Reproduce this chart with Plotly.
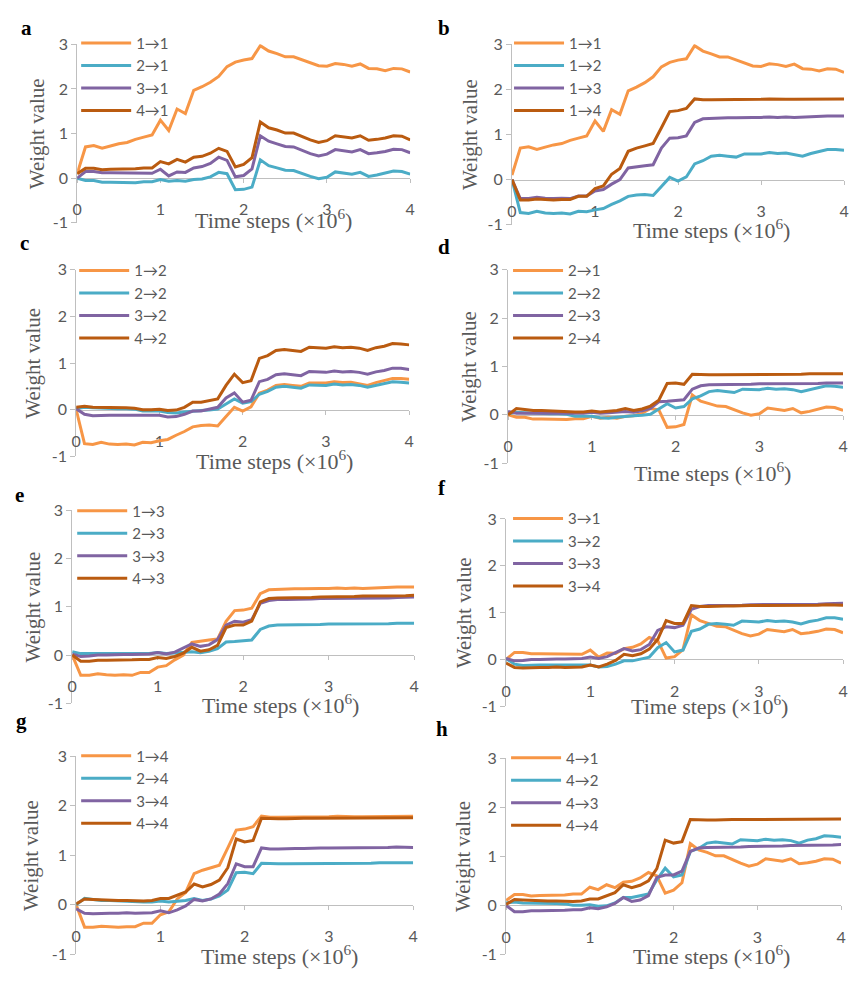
import plotly.graph_objects as go

# ---------------- data ----------------
t = [0.0, 0.1, 0.2, 0.3, 0.4, 0.5, 0.6, 0.7, 0.8, 0.9,
     1.0, 1.1, 1.2, 1.3, 1.4, 1.5, 1.6, 1.7, 1.8, 1.9,
     2.0, 2.1, 2.2, 2.3, 2.4, 2.5, 2.6, 2.7, 2.8, 2.9,
     3.0, 3.1, 3.2, 3.3, 3.4, 3.5, 3.6, 3.7, 3.8, 3.9, 4.0]

W11 = [0.10, 0.70, 0.73, 0.67, 0.72, 0.77, 0.80, 0.87, 0.92, 0.97,
       1.30, 1.07, 1.55, 1.45, 1.97, 2.05, 2.15, 2.28, 2.50, 2.60,
       2.65, 2.68, 2.97, 2.85, 2.79, 2.72, 2.72, 2.65, 2.58, 2.52,
       2.51, 2.57, 2.55, 2.51, 2.56, 2.46, 2.45, 2.41, 2.46, 2.45, 2.38]
W21 = [0.00, -0.05, -0.05, -0.09, -0.09, -0.09, -0.10, -0.10, -0.08, -0.08,
       -0.03, -0.07, -0.05, -0.07, -0.03, -0.02, 0.03, 0.13, 0.10, -0.26,
       -0.25, -0.20, 0.41, 0.28, 0.23, 0.18, 0.17, 0.10, 0.04, -0.01,
       0.02, 0.14, 0.12, 0.09, 0.13, 0.04, 0.07, 0.11, 0.16, 0.15, 0.09]
W31 = [0.00, 0.15, 0.15, 0.12, 0.12, 0.12, 0.12, 0.12, 0.12, 0.11,
       0.20, 0.05, 0.14, 0.13, 0.23, 0.26, 0.33, 0.47, 0.40, 0.03,
       0.06, 0.21, 0.95, 0.83, 0.77, 0.71, 0.70, 0.63, 0.55, 0.50,
       0.54, 0.64, 0.62, 0.59, 0.64, 0.55, 0.57, 0.60, 0.65, 0.64, 0.57]
W41 = [0.10, 0.22, 0.22, 0.19, 0.20, 0.20, 0.20, 0.21, 0.23, 0.23,
       0.37, 0.32, 0.42, 0.36, 0.47, 0.49, 0.56, 0.67, 0.60, 0.25,
       0.31, 0.46, 1.26, 1.13, 1.08, 1.01, 1.01, 0.93, 0.86, 0.80,
       0.84, 0.95, 0.93, 0.90, 0.95, 0.85, 0.87, 0.90, 0.95, 0.94, 0.86]

W12 = [0.00, -0.73, -0.75, -0.70, -0.74, -0.75, -0.74, -0.76, -0.70, -0.71,
       -0.67, -0.64, -0.55, -0.47, -0.37, -0.34, -0.33, -0.35, -0.15, 0.05,
       -0.03, 0.06, 0.35, 0.42, 0.52, 0.54, 0.52, 0.50, 0.57, 0.57,
       0.57, 0.60, 0.58, 0.59, 0.56, 0.52, 0.58, 0.62, 0.67, 0.67, 0.65]
W22 = [0.02, 0.05, 0.04, 0.03, 0.03, 0.02, 0.02, 0.01, -0.03, -0.03,
       -0.03, -0.06, -0.07, -0.05, -0.03, -0.02, -0.01, 0.01, 0.12, 0.23,
       0.14, 0.17, 0.33, 0.39, 0.48, 0.50, 0.48, 0.46, 0.53, 0.53,
       0.52, 0.55, 0.53, 0.54, 0.52, 0.48, 0.52, 0.55, 0.60, 0.59, 0.57]
W32 = [0.02, -0.10, -0.13, -0.12, -0.12, -0.12, -0.12, -0.12, -0.13, -0.13,
       -0.12, -0.16, -0.15, -0.10, -0.03, -0.03, 0.01, 0.05, 0.25, 0.36,
       0.16, 0.20, 0.60, 0.65, 0.75, 0.77, 0.75, 0.73, 0.82, 0.81,
       0.80, 0.83, 0.81, 0.82, 0.80, 0.76, 0.81, 0.84, 0.89, 0.89, 0.86]
W42 = [0.05, 0.07, 0.05, 0.05, 0.05, 0.04, 0.04, 0.03, 0.00, 0.00,
       0.01, -0.02, -0.01, 0.05, 0.16, 0.16, 0.20, 0.23, 0.52, 0.76,
       0.58, 0.62, 1.10, 1.16, 1.27, 1.29, 1.27, 1.25, 1.34, 1.33,
       1.32, 1.35, 1.33, 1.34, 1.32, 1.27, 1.33, 1.36, 1.42, 1.41, 1.39]

W13 = [0.00, -0.42, -0.42, -0.39, -0.41, -0.42, -0.41, -0.42, -0.36, -0.36,
       -0.25, -0.22, -0.10, 0.00, 0.26, 0.29, 0.31, 0.33, 0.70, 0.92,
       0.93, 0.97, 1.27, 1.35, 1.36, 1.37, 1.37, 1.37, 1.38, 1.38,
       1.38, 1.39, 1.38, 1.39, 1.38, 1.39, 1.39, 1.40, 1.41, 1.41, 1.41]
W23 = [0.07, 0.03, 0.03, 0.03, 0.03, 0.03, 0.03, 0.03, 0.03, 0.03,
       0.05, 0.03, 0.04, 0.05, 0.07, 0.05, 0.08, 0.13, 0.27, 0.28,
       0.29, 0.31, 0.53, 0.60, 0.62, 0.62, 0.62, 0.62, 0.63, 0.63,
       0.64, 0.64, 0.64, 0.65, 0.65, 0.65, 0.65, 0.65, 0.66, 0.66, 0.66]
W33 = [0.02, -0.03, -0.02, 0.00, 0.00, 0.01, 0.01, 0.01, 0.02, 0.02,
       0.05, 0.02, 0.06, 0.14, 0.23, 0.18, 0.21, 0.32, 0.62, 0.70,
       0.68, 0.73, 1.07, 1.13, 1.15, 1.15, 1.15, 1.16, 1.16, 1.17,
       1.17, 1.17, 1.17, 1.17, 1.18, 1.18, 1.18, 1.18, 1.19, 1.19, 1.20]
W43 = [0.00, -0.13, -0.13, -0.11, -0.11, -0.11, -0.10, -0.10, -0.09, -0.09,
       -0.05, -0.07, -0.03, 0.04, 0.16, 0.08, 0.11, 0.20, 0.57, 0.62,
       0.62, 0.70, 1.10, 1.17, 1.18, 1.18, 1.18, 1.19, 1.19, 1.20,
       1.20, 1.21, 1.21, 1.21, 1.22, 1.22, 1.22, 1.22, 1.23, 1.23, 1.24]

W14 = [0.00, -0.45, -0.45, -0.43, -0.44, -0.45, -0.44, -0.44, -0.37, -0.37,
       -0.20, -0.14, 0.12, 0.25, 0.63, 0.70, 0.75, 0.80, 1.15, 1.51,
       1.53, 1.58, 1.79, 1.77, 1.77, 1.77, 1.77, 1.77, 1.78, 1.78,
       1.78, 1.79, 1.78, 1.78, 1.78, 1.78, 1.78, 1.79, 1.79, 1.79, 1.79]
W24 = [0.00, 0.13, 0.11, 0.09, 0.09, 0.08, 0.08, 0.07, 0.06, 0.06,
       0.08, 0.06, 0.07, 0.09, 0.13, 0.09, 0.12, 0.18, 0.30, 0.65,
       0.66, 0.63, 0.84, 0.83, 0.83, 0.83, 0.83, 0.83, 0.84, 0.84,
       0.84, 0.84, 0.84, 0.84, 0.84, 0.84, 0.85, 0.85, 0.86, 0.86, 0.85]
W34 = [-0.08, -0.17, -0.18, -0.17, -0.17, -0.17, -0.16, -0.17, -0.16, -0.16,
       -0.12, -0.16, -0.10, -0.02, 0.11, 0.08, 0.12, 0.22, 0.43, 0.83,
       0.77, 0.77, 1.15, 1.13, 1.13, 1.14, 1.14, 1.14, 1.15, 1.15,
       1.15, 1.15, 1.15, 1.15, 1.15, 1.15, 1.16, 1.16, 1.17, 1.17, 1.16]
W44 = [0.02, 0.12, 0.11, 0.10, 0.09, 0.09, 0.09, 0.08, 0.08, 0.09,
       0.13, 0.13, 0.19, 0.26, 0.42, 0.36, 0.41, 0.50, 0.75, 1.33,
       1.27, 1.30, 1.75, 1.74, 1.74, 1.74, 1.75, 1.75, 1.75, 1.75,
       1.75, 1.75, 1.75, 1.75, 1.75, 1.75, 1.76, 1.76, 1.76, 1.76, 1.76]

series = {"1→1": W11, "2→1": W21, "3→1": W31, "4→1": W41,
          "1→2": W12, "2→2": W22, "3→2": W32, "4→2": W42,
          "1→3": W13, "2→3": W23, "3→3": W33, "4→3": W43,
          "1→4": W14, "2→4": W24, "3→4": W34, "4→4": W44}

panel_letters = ["a", "b", "c", "d", "e", "f", "g", "h"]
panel_series = [["1→1", "2→1", "3→1", "4→1"],
                ["1→1", "1→2", "1→3", "1→4"],
                ["1→2", "2→2", "3→2", "4→2"],
                ["2→1", "2→2", "2→3", "2→4"],
                ["1→3", "2→3", "3→3", "4→3"],
                ["3→1", "3→2", "3→3", "3→4"],
                ["1→4", "2→4", "3→4", "4→4"],
                ["4→1", "4→2", "4→3", "4→4"]]

y_tickvals = [-1, 0, 1, 2, 3]
y_ticktext = ["-1", "0", "1", "2", "3"]
x_tickvals = [0, 1, 2, 3, 4]
x_ticktext = ["0", "1", "2", "3", "4"]

# ---------------- styling / layout geometry (pixels) ----------------
W, H = 854, 983
colors = ["#F79646", "#4BACC6", "#8064A2", "#BA5B10"]
axis_gray = "#BFBFBF"
text_gray = "#595959"
sans = "Lato, 'Liberation Sans', sans-serif"
tick_font = dict(family=sans, size=16, color=text_gray)
serif = "'Liberation Serif', 'Times New Roman', serif"

# x(0), x(4), y(3), y(-1) pixel positions of each panel
geom = [(73, 410, 35, 217), (513, 849, 35, 219),
        (72, 409, 265, 455), (509, 848, 265, 462),
        (68, 414, 510, 707), (507, 848, 519, 710),
        (72, 413, 761, 963), (507, 846, 763, 963)]
ytitle_x = [32, 470, 28, 470, 28, 464, 27, 464]
xtitle_xy = [(272, 213), (715, 223), (273, 459), (716, 471),
             (279, 708), (713, 709), (278, 964), (715, 964)]
letter_pos = [(22, 18), (444, 18), (20, 238), (444, 242),
              (15, 495), (442, 487), (17, 725), (442, 733)]
legend_line_x = [77, 515, 75, 514, 73, 514, 77, 512]
legend_row1_y = [33, 33, 265, 265, 510, 518, 760, 762]

fig = go.Figure()
layout = dict(width=W, height=H, margin=dict(l=0, r=0, t=0, b=0),
              paper_bgcolor="white", plot_bgcolor="white",
              showlegend=True, annotations=[])

for i, (letter, keys) in enumerate(zip(panel_letters, panel_series)):
    n = i + 1
    sfx = "" if n == 1 else str(n)
    x0, x4, y3, ym1 = geom[i]
    for k, key in enumerate(keys):
        fig.add_trace(go.Scatter(
            x=t, y=series[key], name=key, mode="lines",
            line=dict(color=colors[k], width=3),
            xaxis="x" + sfx, yaxis="y" + sfx, legend="legend" + sfx,
            hoverinfo="skip"))
    yzero = y3 + 0.75 * (ym1 - y3)
    layout["xaxis" + sfx] = dict(
        domain=[x0 / W, x4 / W], range=[0, 4], anchor="free",
        position=1 - yzero / H,
        showline=True, linecolor=axis_gray, linewidth=1,
        ticks="outside", ticklen=4, tickcolor=axis_gray, tickwidth=1,
        tickvals=x_tickvals, ticktext=x_ticktext, tickfont=tick_font,
        ticklabelstandoff=13,
        showgrid=False, zeroline=False, layer="below traces", fixedrange=True)
    layout["yaxis" + sfx] = dict(
        domain=[1 - ym1 / H, 1 - y3 / H], range=[-1, 3], anchor="x" + sfx,
        showline=True, linecolor=axis_gray, linewidth=1,
        ticks="outside", ticklen=5, tickcolor=axis_gray, tickwidth=1,
        tickvals=y_tickvals, ticktext=y_ticktext, tickfont=tick_font,
        showgrid=False, zeroline=False, layer="below traces", fixedrange=True)
    layout["legend" + sfx] = dict(
        x=(legend_line_x[i] - 5) / W, y=1 - (legend_row1_y[i] - 16) / H,
        xanchor="left", yanchor="top", bgcolor="rgba(0,0,0,0)",
        borderwidth=0, tracegroupgap=0, itemwidth=50,
        font=dict(family=sans, size=15, color=text_gray))
    # axis titles
    layout["annotations"].append(dict(
        text="Weight value", textangle=-90, showarrow=False,
        xref="paper", x=ytitle_x[i] / W, xanchor="center",
        yref="y" + sfx + " domain", y=0.5, yanchor="middle",
        font=dict(family=serif, size=21, color=text_gray)))
    layout["annotations"].append(dict(
        text="Time steps (×10<sup>6</sup>)", showarrow=False,
        xref="paper", x=xtitle_xy[i][0] / W, xanchor="center",
        yref="paper", y=1 - xtitle_xy[i][1] / H, yanchor="middle",
        font=dict(family=serif, size=22, color=text_gray)))
    layout["annotations"].append(dict(
        text="<b>" + letter + "</b>", showarrow=False,
        xref="paper", x=letter_pos[i][0] / W, xanchor="center",
        yref="paper", y=1 - letter_pos[i][1] / H, yanchor="middle",
        font=dict(family=serif, size=21, color="black")))

fig.update_layout(**layout)
fig.write_html("out.html")
